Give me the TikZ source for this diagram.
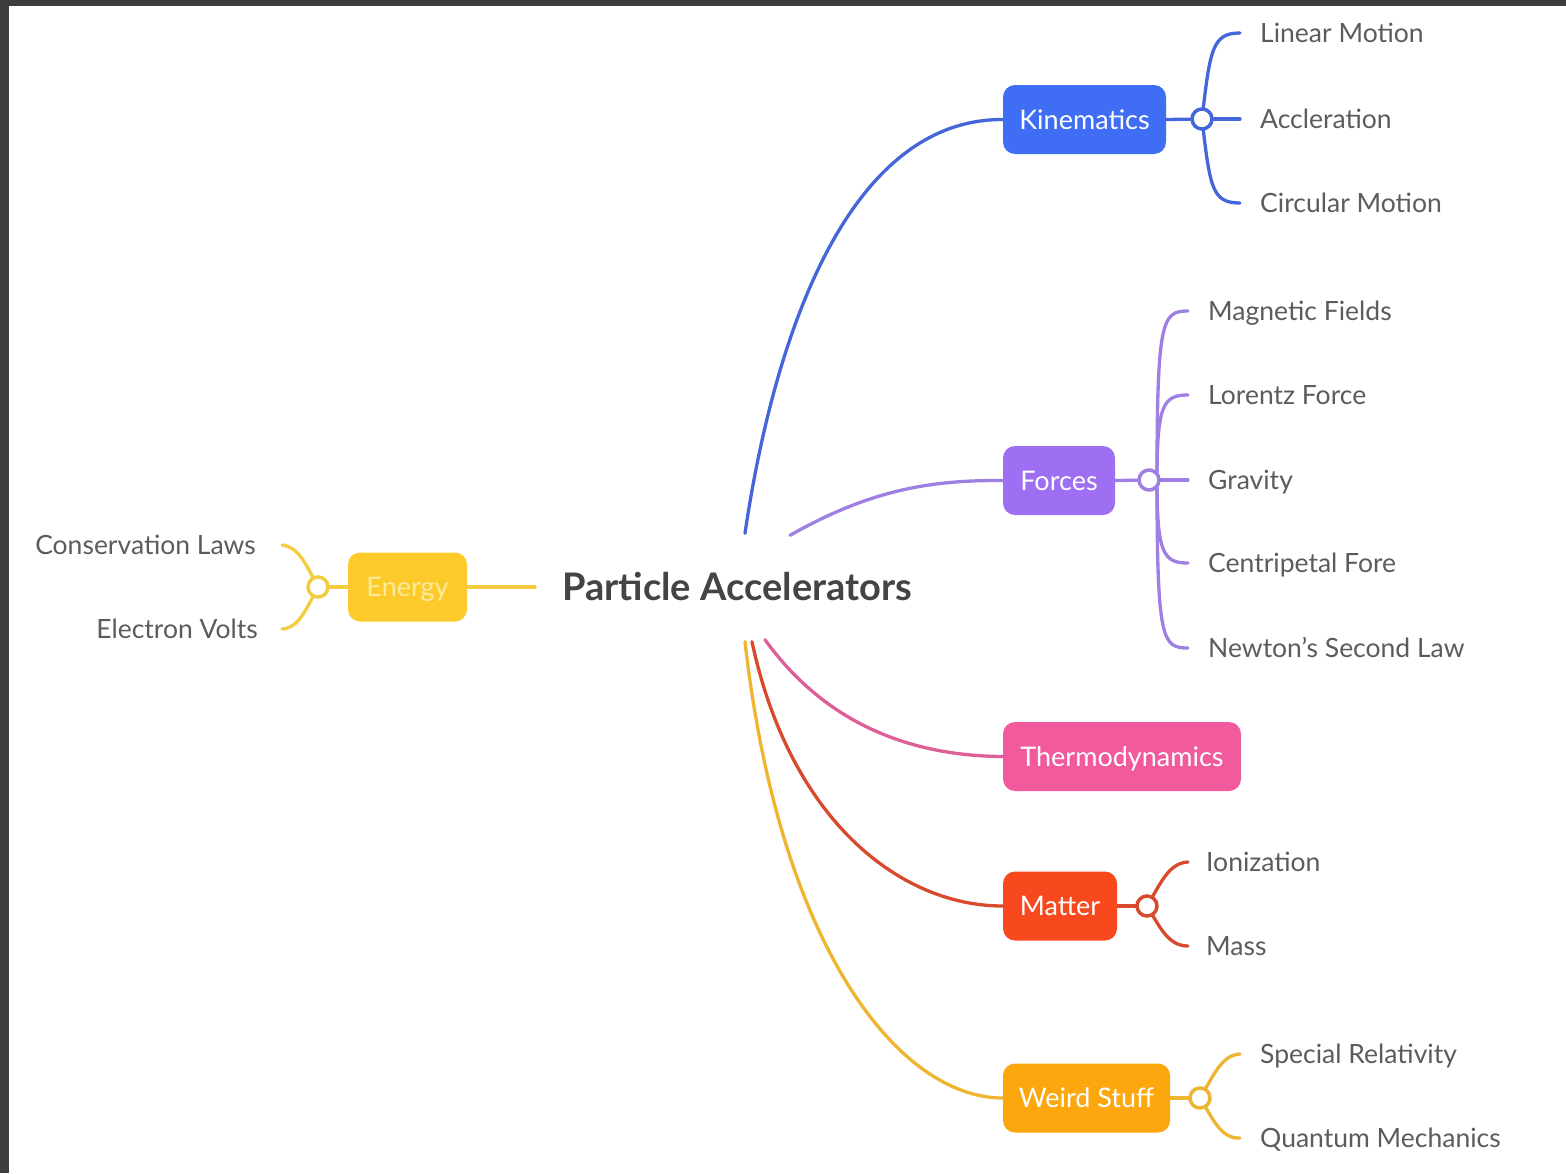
\documentclass[tikz,border=0pt]{standalone}
\usepackage{fontspec}
\setmainfont{Lato}
\usetikzlibrary{backgrounds}
\definecolor{frame}{HTML}{3D3D3D}
\definecolor{leafgray}{HTML}{5C5C5C}
\definecolor{rootgray}{HTML}{444444}
\definecolor{kinc}{HTML}{3F6DF3}
\definecolor{kinl}{HTML}{4466D8}
\definecolor{forc}{HTML}{9E6FF2}
\definecolor{forl}{HTML}{A07FE2}
\definecolor{thec}{HTML}{F15A9C}
\definecolor{thel}{HTML}{DE5F98}
\definecolor{matc}{HTML}{F8481E}
\definecolor{matl}{HTML}{D8492E}
\definecolor{weic}{HTML}{FCA70E}
\definecolor{weil}{HTML}{EDB530}
\definecolor{enec}{HTML}{FCCB2B}
\definecolor{enel}{HTML}{F3CC40}
\definecolor{enet}{HTML}{FDEB9A}
\tikzset{
  box/.style={rounded corners=12pt, minimum height=69pt, inner sep=0pt,
    text=white, text height=19pt, text depth=0pt, font=\fontsize{27}{31}\selectfont},
  hub/.style={circle, line width=3.5pt, fill=white, minimum size=20pt, inner sep=0pt},
  leafr/.style={anchor=west, inner sep=0pt, text=leafgray, text height=19pt, text depth=0pt,
    font=\fontsize{26.5}{31}\selectfont},
  leafl/.style={leafr, anchor=east},
  conn/.style={line width=3.3pt, line cap=round},
}
\begin{document}
\begin{tikzpicture}[x=1pt,y=-1pt]
\useasboundingbox (0,0) rectangle (1566,1173);

% root
\node[inner sep=0pt, text=rootgray, text height=27pt, text depth=0pt,
  font=\bfseries\fontsize{38}{44}\selectfont] (root) at (737,587) {Particle Accelerators};

% main boxes
\node[box, fill=kinc, minimum width=163pt] (kin) at (1084.5,119.5) {Kinematics};
\node[box, fill=forc, minimum width=112pt] (for) at (1059,480.5) {Forces};
\node[box, fill=thec, minimum width=238pt] (the) at (1122,756.5) {Thermodynamics};
\node[box, fill=matc, minimum width=114pt] (mat) at (1060,906) {Matter};
\node[box, fill=weic, minimum width=167pt] (wei) at (1086.5,1098) {Weird Stuff};
\node[box, fill=enec, minimum width=119pt, text=enet] (ene) at (407.5,587) {Energy};

% hubs
\node[hub, draw=kinl] (kh) at (1202,119) {};
\node[hub, draw=forl] (fh) at (1149,480) {};
\node[hub, draw=matl] (mh) at (1147,906) {};
\node[hub, draw=weil] (wh) at (1200,1098) {};
\node[hub, draw=enel] (eh) at (318,587) {};

% leaves
\node[leafr] (lm) at (1260,33) {Linear Motion};
\node[leafr] (ac) at (1260,119) {Accleration};
\node[leafr] (cm) at (1260,203) {Circular Motion};
\node[leafr] (mf) at (1208,311) {Magnetic Fields};
\node[leafr] (lf) at (1208,395) {Lorentz Force};
\node[leafr] (gr) at (1208,480) {Gravity};
\node[leafr] (cf) at (1208,563) {Centripetal Fore};
\node[leafr] (nl) at (1208,648) {Newton's Second Law};
\node[leafr] (io) at (1206,862) {Ionization};
\node[leafr] (ms) at (1206,946) {Mass};
\node[leafr] (sr) at (1260,1054) {Special Relativity};
\node[leafr] (qm) at (1260,1138) {Quantum Mechanics};
\node[leafl] (cl) at (256,545) {Conservation Laws};
\node[leafl] (ev) at (258,629) {Electron Volts};

% root connector ends
\coordinate (r1) at ([shift={(8pt,40pt)}]root.north);
\coordinate (r2) at ([shift={(53pt,38pt)}]root.north);
\coordinate (r3) at ([shift={(28pt,-39pt)}]root.south);
\coordinate (r4) at ([shift={(15pt,-41pt)}]root.south);
\coordinate (r5) at ([shift={(8pt,-41pt)}]root.south);
\coordinate (r0) at ([xshift=-27pt]root.west);

\begin{scope}[on background layer]
\fill[white] (0,0) rectangle (1566,1173);
\fill[frame] (0,0) rectangle (9,1173);
\fill[frame] (0,0) rectangle (1566,6);

% root to main
\draw[conn, kinl] (r1) .. controls (775,330) and (850,119) .. (kin.west);
\draw[conn, forl] (r2) .. controls (870,490) and (930,480) .. (for.west);
\draw[conn, thel] (r3) .. controls (830,730) and (920,756) .. (the.west);
\draw[conn, matl] (r4) .. controls (790,820) and (900,906) .. (mat.west);
\draw[conn, weil] (r5) .. controls (780,950) and (900,1098) .. (wei.west);
\draw[conn, enel] (ene.east) -- (r0);

% kinematics
\draw[conn, kinl] (kin.east) -- (kh);
\draw[conn, kinl] (kh) -- ([xshift=-20pt]ac.west);
\draw[conn, kinl] (kh.center) .. controls (1210,50) and (1212,33) .. ([xshift=-20pt]lm.west);
\draw[conn, kinl] (kh.center) .. controls (1210,188) and (1212,203) .. ([xshift=-20pt]cm.west);

% forces
\draw[conn, forl] (for.east) -- (fh);
\draw[conn, forl] (fh) -- ([xshift=-20pt]gr.west);
\draw[conn, forl] ([xshift=8pt]fh.center) .. controls (1157,320) and (1162,311) .. ([xshift=-20pt]mf.west);
\draw[conn, forl] ([xshift=8pt]fh.center) .. controls (1157,405) and (1163,395) .. ([xshift=-20pt]lf.west);
\draw[conn, forl] ([xshift=8pt]fh.center) .. controls (1157,553) and (1163,563) .. ([xshift=-20pt]cf.west);
\draw[conn, forl] ([xshift=8pt]fh.center) .. controls (1157,640) and (1162,648) .. ([xshift=-20pt]nl.west);

% matter
\draw[conn, matl] (mat.east) -- (mh);
\draw[conn, matl] (mh.center) .. controls (1160,885) and (1168,863) .. ([xshift=-18pt]io.west);
\draw[conn, matl] (mh.center) .. controls (1160,927) and (1168,946) .. ([xshift=-18pt]ms.west);

% weird
\draw[conn, weil] (wei.east) -- (wh);
\draw[conn, weil] (wh.center) .. controls (1213,1077) and (1221,1055) .. ([xshift=-20pt]sr.west);
\draw[conn, weil] (wh.center) .. controls (1213,1119) and (1221,1139) .. ([xshift=-20pt]qm.west);

% energy
\draw[conn, enel] (ene.west) -- (eh);
\draw[conn, enel] (eh.center) .. controls (305,562) and (298,547) .. ([xshift=26pt]cl.east);
\draw[conn, enel] (eh.center) .. controls (305,612) and (298,628) .. ([xshift=24pt]ev.east);
\end{scope}
\end{tikzpicture}
\end{document}
